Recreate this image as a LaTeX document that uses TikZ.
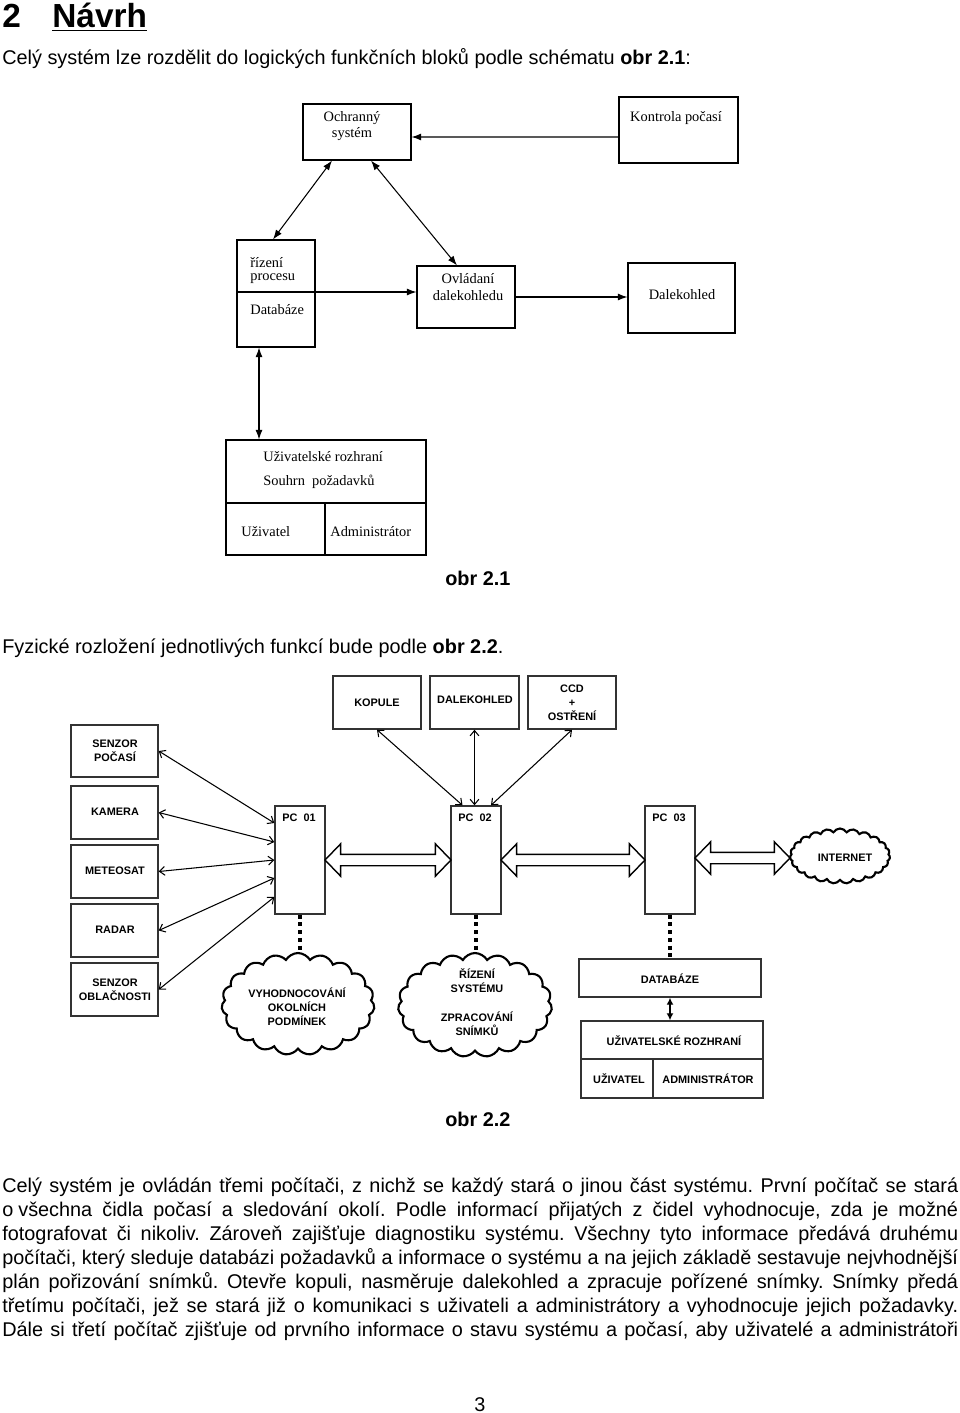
\documentclass[tikz,border=0pt]{standalone}
\usepackage{fontspec}
\setmainfont{Liberation Sans}
\newfontfamily\diagserif{Liberation Serif}
\usetikzlibrary{arrows.meta,calc,fit,shapes.arrows,shapes.symbols}
\frenchspacing

\tikzset{
  blok/.style={draw, line width=0.6pt, inner sep=0pt},
  blok2/.style={draw=black!80, line width=0.8pt, inner sep=0pt},
  ptxt/.style={font=\diagserif\fontsize{8.2}{9.2}\selectfont, inner sep=0pt},
  ktxt/.style={font=\bfseries\fontsize{6.2}{8}\selectfont, inner sep=0pt, align=center},
  btxt/.style={font=\fontsize{11.3}{13.6}\selectfont, inner sep=0pt, anchor=base west},
  sipka/.style={line width=0.6pt, -{Latex[length=5.5pt,width=4pt]}},
  dvsipka/.style={line width=0.6pt, {Latex[length=5.5pt,width=4pt]}-{Latex[length=5.5pt,width=4pt]}},
  tenka/.style={line width=0.6pt, {Straight Barb[length=3pt,width=5pt]}-{Straight Barb[length=3pt,width=5pt]}},
  tlusta/.style={double arrow, draw, line width=0.8pt, inner xsep=0pt, inner ysep=0.1cm,
    double arrow head extend=0.21cm, double arrow tip angle=92},
  mrak/.style={cloud, draw, line width=1.2pt, cloud ignores aspect, cloud puffs=19, cloud puff arc=120},
  tecky/.style={line width=1.8pt, dash pattern=on 2.2pt off 2.2pt},
}
\newcommand{\radek}[1]{\makebox[19.12cm][s]{#1}}

\begin{document}
\begin{tikzpicture}[x=0.02cm, y=-0.02cm]
\fill[white] (0,0) rectangle (960,1413);
\useasboundingbox (0,0) rectangle (960,1413);

% nadpis
\node[anchor=base west, inner sep=0, font=\bfseries\fontsize{19}{22}\selectfont] (kap) at (2,28) {2};
\node[anchor=base west, inner sep=0, font=\bfseries\fontsize{19}{22}\selectfont] (nadpis) at (52,28) {\underline{Návrh}};
\node[btxt] (uvod) at (2,64) {Celý systém lze rozdělit do logických funkčních bloků podle schématu \textbf{obr 2.1}:};

% obr 2.1 -- logicke bloky
\node[blok, fit={(303,104) (411,160)}] (ochr) {};
\node[ptxt, align=center] (ochr-t) at (352,126) {Ochranný\\systém};
\node[blok, fit={(619,97) (738,163)}] (kontr) {};
\node[ptxt] (kontr-t) at (676,118) {Kontrola počasí};
\node[blok, fit={(237,240) (315,347)}] (riz) {};
\node[ptxt, anchor=west] (riz-t1) at (250,263) {řízení};
\node[ptxt, anchor=west] (riz-t2) at (250,279) {procesu};
\node[ptxt, anchor=west] (riz-t3) at (250,310) {Databáze};
\node[blok, fit={(417,266) (515,328)}] (ovl) {};
\node[ptxt, align=center] (ovl-t) at (468,287) {Ovládaní\\dalekohledu};
\node[blok, fit={(628,263) (735,333)}] (dal) {};
\node[ptxt] (dal-t) at (682,295) {Dalekohled};
\node[blok, fit={(226,440) (426,555)}] (uziv) {};
\draw[line width=0.6pt] (226,503) -- (426,503);
\draw[line width=0.6pt] (325,503) -- (325,555);
\node[ptxt, anchor=west] (uziv-t1) at (263,457) {Uživatelské rozhraní};
\node[ptxt, anchor=west] (uziv-t2) at (263,482) {Souhrn\ \ požadavků};
\node[ptxt, anchor=west] (uziv-t3) at (241,532) {Uživatel};
\node[ptxt, anchor=west] (uziv-t4) at (330,532) {Administrátor};

\coordinate (rizdiv) at (riz.west |- 0,292);
\draw[sipka] (rizdiv) -- (rizdiv -| ovl.west);
\draw[sipka] ([yshift=-0.14cm]kontr.west) -- ([yshift=-0.1cm]ochr.east);
\draw[sipka] (ovl.east) -- (ovl.east -| dal.west);
\draw[dvsipka] ([xshift=-0.5cm]ochr.south) -- ([xshift=-0.06cm]riz.north);
\draw[dvsipka] ([xshift=0.28cm]ochr.south) -- ([xshift=-0.18cm]ovl.north);
\coordinate (svisle) at ([xshift=-0.34cm]riz.south);
\draw[dvsipka] (svisle) -- (svisle |- uziv.north);

\node[anchor=base west, inner sep=0, font=\bfseries\fontsize{11.3}{13}\selectfont] (obr1) at (445,585) {obr 2.1};
\node[btxt] (fyz) at (2,653) {Fyzické rozložení jednotlivých funkcí bude podle \textbf{obr 2.2}.};

% obr 2.2 -- fyzicke rozlozeni
\node[blok2, fit={(333,676) (421,729)}] (kop) {};
\node[ktxt] at (kop.center) {KOPULE};
\node[blok2, fit={(430,676) (519,729)}] (dal2) {};
\node[ktxt] (dal2-t) at (475,700) {DALEKOHLED};
\node[blok2, fit={(528,676) (616,729)}] (ccd) {};
\node[ktxt] (ccd-t) at (572,703) {CCD\\+\\OSTŘENÍ};

\node[blok2, fit={(71,725) (158,777)}] (sp) {};
\node[ktxt] (sp-t) at (115,751) {SENZOR\\POČASÍ};
\node[blok2, fit={(71,786) (158,839)}] (kam) {};
\node[ktxt] (kam-t) at (115,812) {KAMERA};
\node[blok2, fit={(71,845) (158,898)}] (met) {};
\node[ktxt] (met-t) at (115,871) {METEOSAT};
\node[blok2, fit={(71,904) (158,957)}] (rad) {};
\node[ktxt] (rad-t) at (115,930) {RADAR};
\node[blok2, fit={(71,963) (158,1016)}] (so) {};
\node[ktxt] (so-t) at (115,990) {SENZOR\\OBLAČNOSTI};

\node[blok2, fit={(275,806) (325,914)}] (pc1) {};
\node[ktxt] (pc1-t) at (299,818) {PC\ \ 01};
\node[blok2, fit={(451,806) (501,914)}] (pc2) {};
\node[ktxt] (pc2-t) at (475,818) {PC\ \ 02};
\node[blok2, fit={(645,806) (695,914)}] (pc3) {};
\node[ktxt] (pc3-t) at (669,818) {PC\ \ 03};

\node[mrak, cloud puffs=23, minimum width=2cm, minimum height=1.1cm] (net) at (840,856) {};
\node[ktxt] (net-t) at (845,858) {INTERNET};
\node[mrak, minimum width=3.06cm, minimum height=2.04cm] (mrak1) at (298,1004) {};
\node[ktxt] (mrak1-t) at (297,1007) {VYHODNOCOVÁNÍ\\OKOLNÍCH\\PODMÍNEK};
\node[mrak, minimum width=3.08cm, minimum height=2.08cm] (mrak2) at (475,1005) {};
\node[ktxt] (mrak2-t1) at (477,981) {ŘÍZENÍ\\SYSTÉMU};
\node[ktxt] (mrak2-t2) at (477,1024) {ZPRACOVÁNÍ\\SNÍMKŮ};

\node[blok2, fit={(579,959) (761,997)}] (db) {};
\node[ktxt] (db-t) at (670,979) {DATABÁZE};
\node[blok2, fit={(581,1021) (763,1098)}] (uz2) {};
\draw[draw=black!80, line width=0.8pt] (581,1059) -- (763,1059);
\draw[draw=black!80, line width=0.8pt] (653,1059) -- (653,1098);
\node[ktxt] (uz2-t1) at (674,1041) {UŽIVATELSKÉ ROZHRANÍ};
\node[ktxt] (uz2-t2) at (619,1079) {UŽIVATEL};
\node[ktxt] (uz2-t3) at (708,1079) {ADMINISTRÁTOR};

% spoje
\draw[tenka] (sp.east) -- ([yshift=0.74cm]pc1.west);
\draw[tenka] (kam.east) -- ([yshift=0.36cm]pc1.west);
\draw[tenka] (met.east) -- (pc1.west);
\draw[tenka] (rad.east) -- ([yshift=-0.36cm]pc1.west);
\draw[tenka] (so.east) -- ([yshift=-0.74cm]pc1.west);
\draw[tenka] (kop.south) -- ([xshift=-0.27cm]pc2.north);
\draw[tenka] (dal2.south) -- (dal2.south |- pc2.north);
\draw[tenka] (ccd.south) -- ([xshift=0.3cm]pc2.north);
\node[tlusta, minimum height=2.52cm] (s12) at ($(pc1.east)!0.5!(pc2.west)$) {};
\node[tlusta, minimum height=2.88cm] (s23) at ($(pc2.east)!0.5!(pc3.west)$) {};
\node[tlusta, minimum height=1.9cm] (s3n) at ($(pc3.east)!0.5!(net.west)$) {};
\draw[tecky] (pc1.south) -- (pc1.south |- mrak1.north);
\draw[tecky] (pc2.south) -- (pc2.south |- mrak2.north);
\draw[tecky] (pc3.south) -- (db.north);
\draw[line width=1pt, {Latex[length=4pt,width=4pt]}-{Latex[length=4pt,width=4pt]}] (db.south) -- (db.south |- uz2.north);

\node[anchor=base west, inner sep=0, font=\bfseries\fontsize{11.3}{13}\selectfont] (obr2) at (445,1126) {obr 2.2};

% text
\node[btxt] (r1) at (2,1192) {\radek{Celý systém je ovládán třemi počítači, z nichž se každý stará o jinou část systému. První počítač se stará}};
\node[btxt] (r2) at (2,1216) {\radek{o\hspace{0.25em}všechna čidla počasí a sledování okolí. Podle informací přijatých z čidel vyhodnocuje, zda je možné}};
\node[btxt] (r3) at (2,1240) {\radek{fotografovat či nikoliv. Zároveň zajišťuje diagnostiku systému. Všechny tyto informace předává druhému}};
\node[btxt] (r4) at (2,1264) {\radek{počítači, který sleduje databázi požadavků a informace o systému a na jejich základě sestavuje nejvhodnější}};
\node[btxt] (r5) at (2,1288) {\radek{plán pořizování snímků. Otevře kopuli, nasměruje dalekohled a zpracuje pořízené snímky. Snímky předá}};
\node[btxt] (r6) at (2,1312) {\radek{třetímu počítači, jež se stará již o komunikaci s uživateli a administrátory a vyhodnocuje jejich požadavky.}};
\node[btxt] (r7) at (2,1336) {\radek{Dále si třetí počítač zjišťuje od prvního informace o stavu systému a počasí, aby uživatelé a administrátoři}};
\node[btxt, anchor=base] (strana) at (480,1411) {3};
\end{tikzpicture}
\end{document}
